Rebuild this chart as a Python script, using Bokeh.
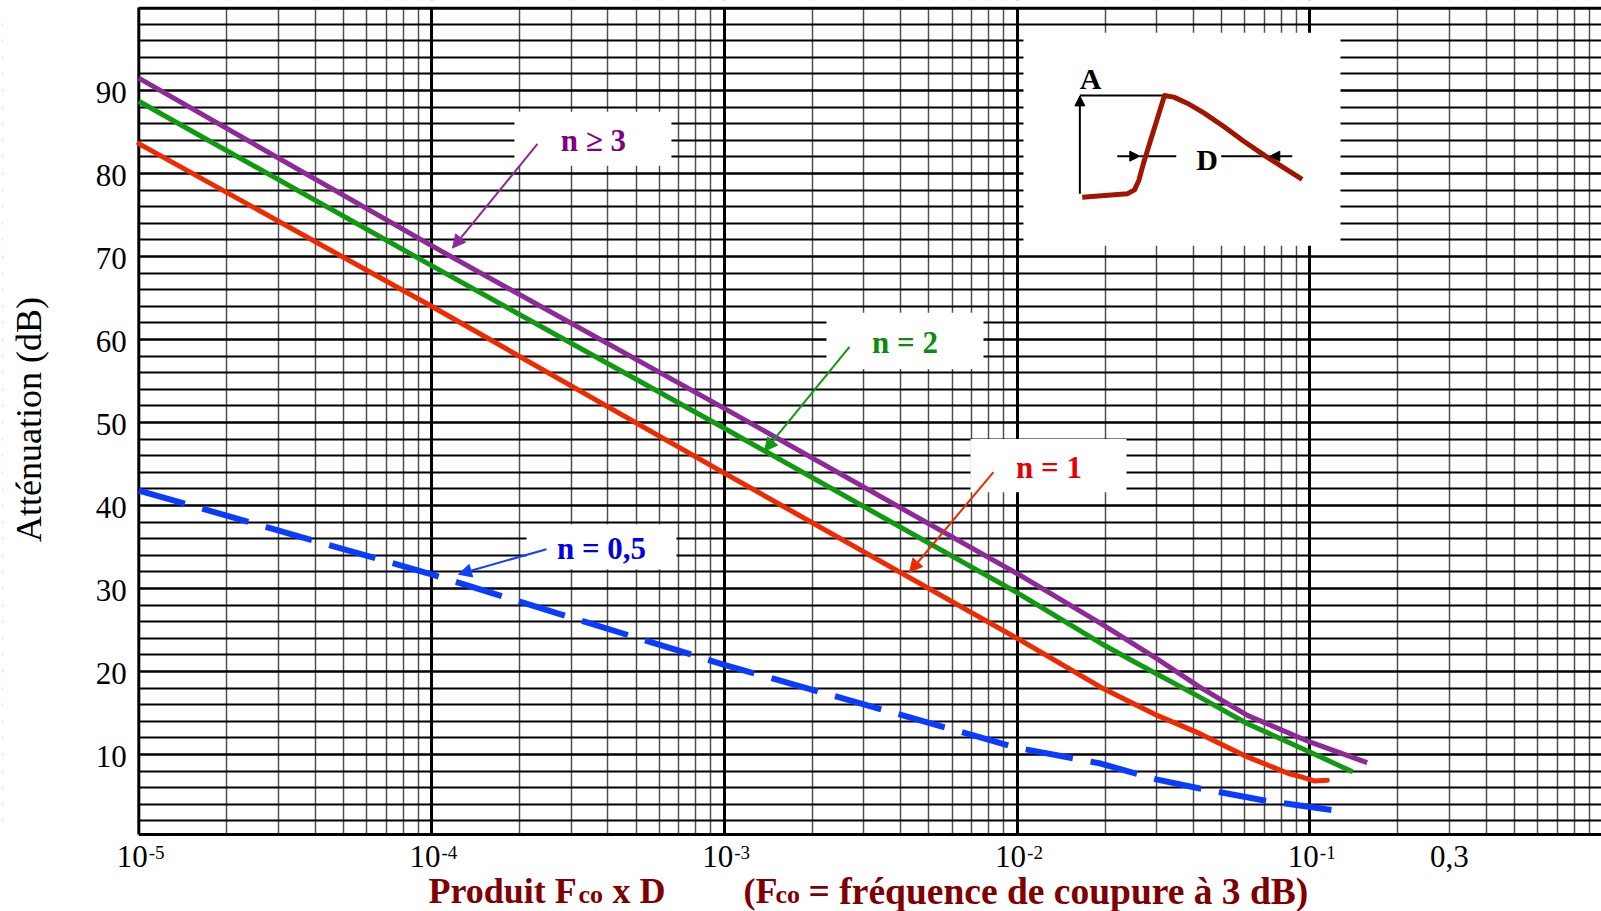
import numpy as np
from bokeh.plotting import figure
from bokeh.models import FixedTicker, Label, Arrow, NormalHead, Range1d
from bokeh.core.properties import value
from bokeh.embed import file_html
from bokeh.resources import INLINE

# ---------------- data ----------------
x_n3 = [1e-5, 1e-4, 1e-3, 1e-2, 0.0193, 0.0301, 0.0421, 0.0612, 0.1, 0.157]
y_n3 = [91.5, 71.3, 51.7, 31.8, 25.8, 21.5, 18.1, 14.7, 11.5, 9.0]

x_n2 = [1e-5, 1e-4, 1e-3, 1e-2, 0.0193, 0.0253, 0.0421, 0.0612, 0.1, 0.14]
y_n2 = [88.7, 68.9, 49.3, 29.5, 23.4, 21.1, 16.9, 13.7, 10.3, 7.9]

x_n1 = [1e-5, 1e-4, 1e-3, 1e-2, 0.0193, 0.0301, 0.0421, 0.0612, 0.0846, 0.0935, 0.1035, 0.1148]
y_n1 = [83.6, 64.0, 43.9, 24.0, 18.1, 14.7, 12.5, 9.7, 7.7, 7.3, 6.8, 6.9]

x_n05 = [1e-5, 1e-4, 1e-3, 1e-2, 0.0193, 0.0299, 0.0421, 0.07, 0.119]
y_n05 = [41.8, 31.7, 20.8, 10.8, 8.9, 7.0, 5.9, 4.45, 3.3]

x_decades = [1e-5, 1e-4, 1e-3, 1e-2, 1e-1]
x_exponents = ["-5", "-4", "-3", "-2", "-1"]
x_extra_tick = [0.3]
x_extra_label = ["0,3"]
y_ticks = [10, 20, 30, 40, 50, 60, 70, 80, 90]
y_tick_labels = [str(v) for v in y_ticks]
y_minor = [v for v in range(2, 100, 2) if v % 10 != 0]
x_minor = [m * d for d in [1e-5, 1e-4, 1e-3, 1e-2, 1e-1] for m in range(2, 10)]
X_MIN, X_MAX = 1e-5, 1.0
Y_MIN, Y_MAX = 0.35, 100.0

# curve labels
lab_text = ["n \u2265 3", "n = 2", "n = 1", "n = 0,5"]
lab_colors = ["#800080", "#0e8a0e", "#e20000", "#0000e6"]
lab_x = [3.574e-4, 4.142e-3, 1.286e-2, 3.806e-4]
lab_y = [83.92, 59.63, 44.57, 34.81]
box_l = [1.920e-4, 2.234e-3, 6.934e-3, 2.111e-4]
box_r = [6.60e-4, 7.68e-3, 2.365e-2, 6.865e-4]
box_b = [80.93, 56.43, 41.6, 32.31]
box_t = [87.44, 63.23, 48.0, 37.74]
arr_x0 = [2.301e-4, 2.677e-3, 8.31e-3, 2.47e-4]
arr_y0 = [83.56, 59.10, 44.02, 34.73]
arr_x1 = [1.179e-4, 1.372e-3, 4.291e-3, 1.236e-4]
arr_y1 = [71.01, 46.55, 31.95, 31.71]
arr_colors = ["#8e2a97", "#109a10", "#f02a00", "#1040ff"]

# inset schematic (definition of A and D)
inset_box = dict(left=0.01052, right=0.1273, bottom=71.28, top=96.97)
inset_curve_x = [0.01670, 0.02378, 0.02519, 0.02606, 0.02710, 0.03189, 0.03431, 0.03813,
                 0.04344, 0.05084, 0.05950, 0.07062, 0.09419]
inset_curve_y = [77.14, 77.55, 78.03, 79.16, 81.36, 89.40, 89.20, 88.47,
                 87.31, 85.66, 83.89, 82.09, 79.28]

# ---------------- figure (frame ~ whole canvas; axes drawn from the tick lists) ----------------
FONT = "Liberation Serif"
PX_PER_DB = 8.299
p = figure(width=1601, height=911, x_axis_type="log",
           x_range=Range1d(3.4232e-6, 0.99177), y_range=Range1d(-8.928, 100.845),
           output_backend="svg", toolbar_location=None,
           min_border_left=2, min_border_right=0, min_border_top=0, min_border_bottom=0)
p.outline_line_color = None
p.background_fill_color = "white"
p.border_fill_color = "white"
p.xaxis.visible = False
p.yaxis.visible = False

# grid
p.xgrid.ticker = FixedTicker(ticks=x_decades + [1.0], minor_ticks=x_minor)
p.xgrid.grid_line_color = "black"
p.xgrid.grid_line_width = 3
p.xgrid.grid_line_alpha = 1
p.xgrid.minor_grid_line_color = "#505050"
p.xgrid.minor_grid_line_width = 1.5

p.ygrid.ticker = FixedTicker(ticks=y_ticks, minor_ticks=y_minor)
p.ygrid.grid_line_color = "black"
p.ygrid.grid_line_width = 2.7
p.ygrid.grid_line_alpha = 1
p.ygrid.minor_grid_line_color = "black"
p.ygrid.minor_grid_line_width = 1.9

# white margins outside the plotting area
p.quad(left=[1e-7, 1e-7, 1e-7], right=[X_MIN, 10, 10], bottom=[-50, -50, Y_MAX],
       top=[150, Y_MIN, 150], fill_color="white", line_color="white", line_width=2)
# frame lines (left axis, bottom axis, top border)
p.segment(x0=[X_MIN, X_MIN, X_MIN], y0=[Y_MIN, Y_MIN, Y_MAX - 0.1],
          x1=[X_MIN, X_MAX, X_MAX], y1=[Y_MAX, Y_MIN, Y_MAX - 0.1],
          line_color="black", line_width=3)

# curves
p.line(x_n05, y_n05, line_color="#0a3cff", line_width=6, line_dash="48 18", line_cap="butt")
p.line(x_n1, y_n1, line_color="#f02a00", line_width=5, line_join="round", line_cap="round")
p.line(x_n2, y_n2, line_color="#109a10", line_width=5, line_join="round", line_cap="butt")
p.line(x_n3, y_n3, line_color="#8e2a97", line_width=5, line_join="round", line_cap="butt")

# label boxes and texts
p.quad(left=box_l, right=box_r, bottom=box_b, top=box_t, fill_color="white", line_color=None)
p.text(x=lab_x, y=lab_y, text=lab_text, text_color=lab_colors,
       text_font=value(FONT), text_font_style="bold", text_font_size="31px",
       text_align="center", text_baseline="middle")
for x0, y0, x1, y1, c in zip(arr_x0, arr_y0, arr_x1, arr_y1, arr_colors):
    p.add_layout(Arrow(end=NormalHead(size=13, fill_color=c, line_color=c, line_width=1),
                       x_start=x0, y_start=y0, x_end=x1, y_end=y1,
                       line_color=c, line_width=2))

# inset
p.quad(left=[inset_box["left"]], right=[inset_box["right"]], bottom=[inset_box["bottom"]],
       top=[inset_box["top"]], fill_color="white", line_color=None)
p.line([0.01639, 0.03189], [89.40, 89.40], line_color="black", line_width=2)
p.add_layout(Arrow(end=NormalHead(size=10, fill_color="black", line_color="black"),
                   x_start=0.01639, y_start=77.55, x_end=0.01639, y_end=89.35,
                   line_color="black", line_width=2))
p.line([0.02626, 0.03498], [82.09, 82.09], line_color="black", line_width=2)
p.add_layout(Arrow(end=NormalHead(size=10, fill_color="black", line_color="black"),
                   x_start=0.02199, y_start=82.09, x_end=0.02626, y_end=82.09,
                   line_color="black", line_width=2))
p.line([0.04983, 0.07302], [82.09, 82.09], line_color="black", line_width=2)
p.add_layout(Arrow(end=NormalHead(size=10, fill_color="black", line_color="black"),
                   x_start=0.08710, y_start=82.09, x_end=0.07302, y_end=82.09,
                   line_color="black", line_width=2))
p.line(inset_curve_x, inset_curve_y, line_color="#a01500", line_width=5, line_join="round")
p.text(x=[0.01782, 0.04462], y=[91.41, 81.65], text=["A", "D"], text_color="black",
       text_font=value(FONT), text_font_style="bold", text_font_size="30px",
       text_align="center", text_baseline="middle")

# y tick labels
p.text(x=[X_MIN] * len(y_ticks), y=y_ticks, text=y_tick_labels, x_offset=-12, y_offset=2,
       text_align="right", text_baseline="middle",
       text_font=value(FONT), text_font_size="31px", text_color="black")
# y axis title
p.text(x=[4.2004e-6], y=[50.35], text=["Att\u00e9nuation (dB)"], angle=np.pi / 2,
       text_align="center", text_baseline="middle",
       text_font=value(FONT), text_font_size="36px", text_color="black")

# x tick labels (10 with superscript exponent)
y_lab = Y_MIN - 22 / PX_PER_DB
y_sup = Y_MIN - 18 / PX_PER_DB
p.text(x=x_decades, y=[y_lab] * len(x_decades), text=["10"] * len(x_decades),
       x_offset=9, text_align="right", text_baseline="middle",
       text_font=value(FONT), text_font_size="31px", text_color="black")
p.text(x=x_decades, y=[y_sup] * len(x_decades), text=x_exponents,
       x_offset=10, text_align="left", text_baseline="middle",
       text_font=value(FONT), text_font_size="19px", text_color="black")
p.text(x=x_extra_tick, y=[y_lab] * len(x_extra_tick), text=x_extra_label,
       text_align="center", text_baseline="middle",
       text_font=value(FONT), text_font_size="31px", text_color="black")

# x axis title (with small "co")
title_parts = [("Produit F", 426, 20.2, "36px"), ("co", 576, 16.8, "26px"),
               ("x D", 610, 20.2, "36px"), ("(F", 741, 20.2, "36px"),
               ("co", 773, 16.8, "26px"),
               ("= fr\u00e9quence de coupure \u00e0 3 dB)", 806, 20.5, "37.5px")]
for txt, xs, ys, fs in title_parts:
    p.add_layout(Label(x=xs, y=ys, x_units="screen", y_units="screen", text=txt,
                       text_align="left", text_baseline="middle", text_font=FONT,
                       text_font_size=fs, text_font_style="bold", text_color="#800000"))

open("out.html", "w").write(file_html(p, INLINE))
